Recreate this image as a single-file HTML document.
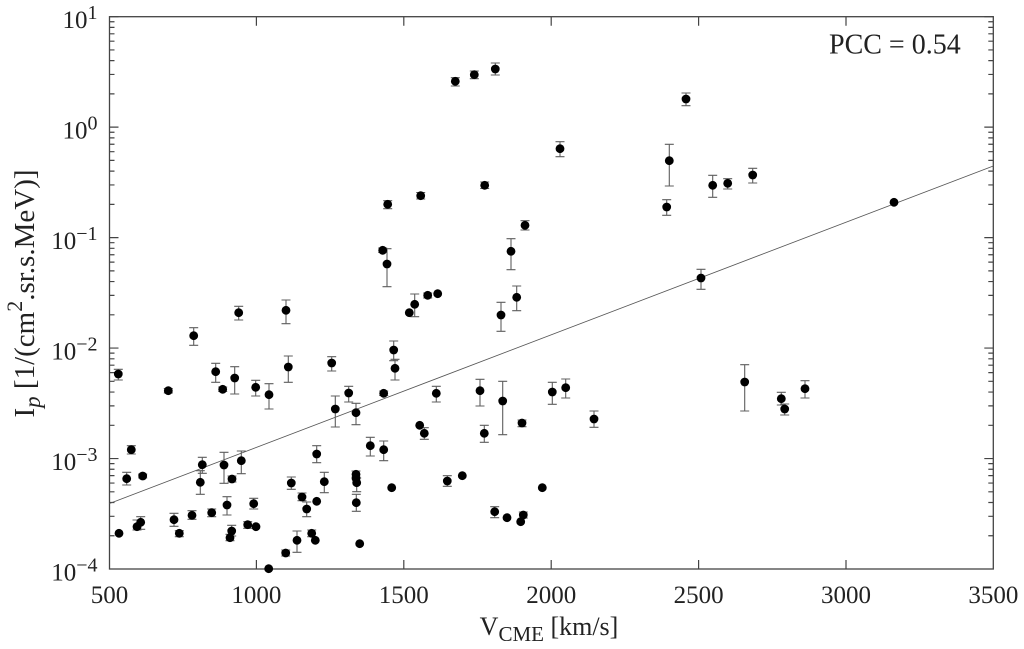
<!DOCTYPE html>
<html>
<head>
<meta charset="utf-8">
<style>
html,body{margin:0;padding:0;background:#fff;}
svg{display:block;}
svg text{font-family:"Liberation Serif","Times New Roman",serif;fill:#222;}
</style>
</head>
<body>
<svg width="1024" height="649" viewBox="0 0 1024 649" xmlns="http://www.w3.org/2000/svg" font-family="'Liberation Serif', 'Times New Roman', serif">
<rect x="0" y="0" width="1024" height="649" fill="#fff"/>
<g id="lt" stroke="#444" stroke-width="1.2" fill="none">
<path d="M109.5,458.54h9M109.5,348.08h9M109.5,237.62h9M109.5,127.16h9M109.5,16.7h9M109.5,535.75h5M109.5,516.3h5M109.5,502.5h5M109.5,491.79h5M109.5,483.05h5M109.5,475.65h5M109.5,469.25h5M109.5,463.6h5M109.5,425.29h5M109.5,405.84h5M109.5,392.04h5M109.5,381.33h5M109.5,372.59h5M109.5,365.19h5M109.5,358.79h5M109.5,353.14h5M109.5,314.83h5M109.5,295.38h5M109.5,281.58h5M109.5,270.87h5M109.5,262.13h5M109.5,254.73h5M109.5,248.33h5M109.5,242.68h5M109.5,204.37h5M109.5,184.92h5M109.5,171.12h5M109.5,160.41h5M109.5,151.67h5M109.5,144.27h5M109.5,137.87h5M109.5,132.22h5M109.5,93.91h5M109.5,74.46h5M109.5,60.66h5M109.5,49.95h5M109.5,41.21h5M109.5,33.81h5M109.5,27.41h5M109.5,21.76h5"/>
</g>
<use href="#lt" transform="translate(1102.8,0) scale(-1,1)"/>
<path d="M256.4,569v-9M403.8,569v-9M551.2,569v-9M698.6,569v-9M846,569v-9M256.4,16.7v9M403.8,16.7v9M551.2,16.7v9M698.6,16.7v9M846,16.7v9" stroke="#444" stroke-width="1.2" fill="none"/>
<rect x="109.5" y="16.7" width="883.8" height="552.3" fill="none" stroke="#444" stroke-width="1.3"/>
<line x1="109.5" y1="503.5" x2="993.3" y2="166" stroke="#555" stroke-width="0.9"/>
<path fill="none" stroke="#5f5f5f" stroke-width="1.1" d="M118.3,369.3V380M113.8,369.3h9M113.8,380h9M168.3,388.5V393M163.8,388.5h9M163.8,393h9M193.7,327.7V345.3M189.2,327.7h9M189.2,345.3h9M238.7,306.3V320M234.2,306.3h9M234.2,320h9M286,300V323.7M281.5,300h9M281.5,323.7h9M215.7,363.3V382.3M211.2,363.3h9M211.2,382.3h9M222.7,387V391.5M218.2,387h9M218.2,391.5h9M234.7,366.7V394M230.2,366.7h9M230.2,394h9M255.7,380.3V396M251.2,380.3h9M251.2,396h9M269,383.7V409M264.5,383.7h9M264.5,409h9M288.3,356V382.3M283.8,356h9M283.8,382.3h9M331.7,356.7V371M327.2,356.7h9M327.2,371h9M335.3,396V427M330.8,396h9M330.8,427h9M348.7,386.3V402M344.2,386.3h9M344.2,402h9M356,403.3V424.7M351.5,403.3h9M351.5,424.7h9M383.7,391V395.5M379.2,391h9M379.2,395.5h9M393.7,341V360.7M389.2,341h9M389.2,360.7h9M395,359.3V380M390.5,359.3h9M390.5,380h9M131.3,445.7V454M126.8,445.7h9M126.8,454h9M126.7,472.3V485M122.2,472.3h9M122.2,485h9M142.7,474V478M138.2,474h9M138.2,478h9M202.3,457.3V473.3M197.8,457.3h9M197.8,473.3h9M200.3,470.7V494.3M195.8,470.7h9M195.8,494.3h9M224,452.3V483.3M219.5,452.3h9M219.5,483.3h9M241.3,451V473.7M236.8,451h9M236.8,473.7h9M232,476V482M227.5,476h9M227.5,482h9M137,520V530M132.5,520h9M132.5,530h9M140.7,516.7V529.3M136.2,516.7h9M136.2,529.3h9M174,513.3V526.3M169.5,513.3h9M169.5,526.3h9M179.3,530.7V536.7M174.8,530.7h9M174.8,536.7h9M192,510.7V519.3M187.5,510.7h9M187.5,519.3h9M211.7,509V516.7M207.2,509h9M207.2,516.7h9M227,496.7V515M222.5,496.7h9M222.5,515h9M253.7,498.3V509M249.2,498.3h9M249.2,509h9M247.7,521.7V528.3M243.2,521.7h9M243.2,528.3h9M231.7,525.3V536M227.2,525.3h9M227.2,536h9M230,534.3V540.7M225.5,534.3h9M225.5,540.7h9M285.7,550V556M281.2,550h9M281.2,556h9M297,531V552.3M292.5,531h9M292.5,552.3h9M291.3,477V489.3M286.8,477h9M286.8,489.3h9M302,493V500.7M297.5,493h9M297.5,500.7h9M306.7,502V516.7M302.2,502h9M302.2,516.7h9M316.7,445.7V462.7M312.2,445.7h9M312.2,462.7h9M324.3,472.3V492.7M319.8,472.3h9M319.8,492.7h9M311.7,530V536.7M307.2,530h9M307.2,536.7h9M356,471V477M351.5,471h9M351.5,477h9M356.7,478V491.7M352.2,478h9M352.2,491.7h9M356.3,494.3V511.3M351.8,494.3h9M351.8,511.3h9M370.3,437.3V456M365.8,437.3h9M365.8,456h9M383.7,441V460.7M379.2,441h9M379.2,460.7h9M414.7,294V316.7M410.2,294h9M410.2,316.7h9M427.7,293V298M423.2,293h9M423.2,298h9M501,302.3V331.3M496.5,302.3h9M496.5,331.3h9M516.7,286V310.7M512.2,286h9M512.2,310.7h9M436.3,386.3V402M431.8,386.3h9M431.8,402h9M480,379.3V406M475.5,379.3h9M475.5,406h9M502.7,381.3V434.7M498.2,381.3h9M498.2,434.7h9M552.3,382.3V404.3M547.8,382.3h9M547.8,404.3h9M565.7,379V398M561.2,379h9M561.2,398h9M594,411V427.3M589.5,411h9M589.5,427.3h9M424.3,427.7V439.3M419.8,427.7h9M419.8,439.3h9M484.3,425.3V442.3M479.8,425.3h9M479.8,442.3h9M522,420V426.7M517.5,420h9M517.5,426.7h9M447.3,475.7V486.3M442.8,475.7h9M442.8,486.3h9M494.7,506.7V517.7M490.2,506.7h9M490.2,517.7h9M523.3,512V518M518.8,512h9M518.8,518h9M455.3,77.7V86M450.8,77.7h9M450.8,86h9M474.3,71V78.7M469.8,71h9M469.8,78.7h9M495.3,63V75M490.8,63h9M490.8,75h9M560,141.7V156.7M555.5,141.7h9M555.5,156.7h9M669.3,144.3V186M664.8,144.3h9M664.8,186h9M666.7,199.7V215.3M662.2,199.7h9M662.2,215.3h9M387.7,200.7V208.7M383.2,200.7h9M383.2,208.7h9M420.7,192.5V199M416.2,192.5h9M416.2,199h9M484.7,182V188.5M480.2,182h9M480.2,188.5h9M525,220.7V230M520.5,220.7h9M520.5,230h9M511,238.7V269.7M506.5,238.7h9M506.5,269.7h9M382.7,248V252.5M378.2,248h9M378.2,252.5h9M387,248.7V286.7M382.5,248.7h9M382.5,286.7h9M686,93V105.7M681.5,93h9M681.5,105.7h9M712.7,175.3V197.3M708.2,175.3h9M708.2,197.3h9M727.7,178.7V189M723.2,178.7h9M723.2,189h9M752.7,168.3V183M748.2,168.3h9M748.2,183h9M701,269.3V289.3M696.5,269.3h9M696.5,289.3h9M744.7,364.7V411M740.2,364.7h9M740.2,411h9M781.3,392.3V405M776.8,392.3h9M776.8,405h9M784.7,404V415M780.2,404h9M780.2,415h9M805,380.7V398M800.5,380.7h9M800.5,398h9"/>
<g fill="#000">
<circle cx="118.3" cy="374" r="4.4"/><circle cx="168.3" cy="390.7" r="4.4"/><circle cx="193.7" cy="335.7" r="4.4"/><circle cx="238.7" cy="312.7" r="4.4"/><circle cx="286" cy="310.3" r="4.4"/><circle cx="215.7" cy="371.7" r="4.4"/><circle cx="222.7" cy="389.3" r="4.4"/><circle cx="234.7" cy="378" r="4.4"/><circle cx="255.7" cy="387.3" r="4.4"/><circle cx="269" cy="394.7" r="4.4"/><circle cx="288.3" cy="367" r="4.4"/><circle cx="331.7" cy="363" r="4.4"/><circle cx="335.3" cy="409" r="4.4"/><circle cx="348.7" cy="393" r="4.4"/><circle cx="356" cy="412.7" r="4.4"/><circle cx="383.7" cy="393.3" r="4.4"/><circle cx="393.7" cy="350" r="4.4"/><circle cx="395" cy="368.3" r="4.4"/><circle cx="131.3" cy="449.7" r="4.4"/><circle cx="126.7" cy="478.7" r="4.4"/><circle cx="142.7" cy="476" r="4.4"/><circle cx="202.3" cy="464.7" r="4.4"/><circle cx="200.3" cy="482.3" r="4.4"/><circle cx="224" cy="465" r="4.4"/><circle cx="241.3" cy="460.7" r="4.4"/><circle cx="232" cy="479" r="4.4"/><circle cx="119" cy="533.3" r="4.4"/><circle cx="137" cy="526.7" r="4.4"/><circle cx="140.7" cy="522.3" r="4.4"/><circle cx="174" cy="519.7" r="4.4"/><circle cx="179.3" cy="533.3" r="4.4"/><circle cx="192" cy="515.3" r="4.4"/><circle cx="211.7" cy="512.7" r="4.4"/><circle cx="227" cy="505" r="4.4"/><circle cx="253.7" cy="503.7" r="4.4"/><circle cx="247.7" cy="524.7" r="4.4"/><circle cx="256" cy="526.7" r="4.4"/><circle cx="231.7" cy="531" r="4.4"/><circle cx="230" cy="537.7" r="4.4"/><circle cx="268.7" cy="568.7" r="4.4"/><circle cx="285.7" cy="553" r="4.4"/><circle cx="297" cy="540.3" r="4.4"/><circle cx="291.3" cy="483" r="4.4"/><circle cx="302" cy="497" r="4.4"/><circle cx="306.7" cy="509" r="4.4"/><circle cx="316.7" cy="501.3" r="4.4"/><circle cx="316.7" cy="454" r="4.4"/><circle cx="324.3" cy="481.7" r="4.4"/><circle cx="311.7" cy="533.3" r="4.4"/><circle cx="315.3" cy="540.3" r="4.4"/><circle cx="356" cy="474.3" r="4.4"/><circle cx="356" cy="478.3" r="4.4"/><circle cx="356.7" cy="482.7" r="4.4"/><circle cx="356.3" cy="502.7" r="4.4"/><circle cx="359.7" cy="543.7" r="4.4"/><circle cx="370.3" cy="445.7" r="4.4"/><circle cx="383.7" cy="449.7" r="4.4"/><circle cx="391.7" cy="487.7" r="4.4"/><circle cx="409.3" cy="312.7" r="4.4"/><circle cx="414.7" cy="304.3" r="4.4"/><circle cx="427.7" cy="295.3" r="4.4"/><circle cx="437.7" cy="293.7" r="4.4"/><circle cx="501" cy="315" r="4.4"/><circle cx="516.7" cy="297.3" r="4.4"/><circle cx="436.3" cy="393.3" r="4.4"/><circle cx="480" cy="390.7" r="4.4"/><circle cx="502.7" cy="401" r="4.4"/><circle cx="552.3" cy="392" r="4.4"/><circle cx="565.7" cy="387.7" r="4.4"/><circle cx="594" cy="419" r="4.4"/><circle cx="419.7" cy="425.3" r="4.4"/><circle cx="424.3" cy="433.3" r="4.4"/><circle cx="484.3" cy="433.3" r="4.4"/><circle cx="522" cy="423" r="4.4"/><circle cx="447.3" cy="481" r="4.4"/><circle cx="462.3" cy="475.7" r="4.4"/><circle cx="542.3" cy="487.7" r="4.4"/><circle cx="494.7" cy="511.7" r="4.4"/><circle cx="507" cy="517.7" r="4.4"/><circle cx="520.7" cy="521.7" r="4.4"/><circle cx="523.3" cy="515" r="4.4"/><circle cx="455.3" cy="81.3" r="4.4"/><circle cx="474.3" cy="74.7" r="4.4"/><circle cx="495.3" cy="69" r="4.4"/><circle cx="560" cy="148.7" r="4.4"/><circle cx="669.3" cy="160.7" r="4.4"/><circle cx="666.7" cy="207" r="4.4"/><circle cx="387.7" cy="204.3" r="4.4"/><circle cx="420.7" cy="195.7" r="4.4"/><circle cx="484.7" cy="185.3" r="4.4"/><circle cx="525" cy="225.3" r="4.4"/><circle cx="511" cy="251.3" r="4.4"/><circle cx="382.7" cy="250.3" r="4.4"/><circle cx="387" cy="264" r="4.4"/><circle cx="686" cy="99" r="4.4"/><circle cx="712.7" cy="185.3" r="4.4"/><circle cx="727.7" cy="183.3" r="4.4"/><circle cx="752.7" cy="175" r="4.4"/><circle cx="894" cy="202.3" r="4.4"/><circle cx="701" cy="278" r="4.4"/><circle cx="744.7" cy="382" r="4.4"/><circle cx="781.3" cy="398.7" r="4.4"/><circle cx="784.7" cy="409" r="4.4"/><circle cx="805" cy="388.7" r="4.4"/>
</g>
<g font-size="25" text-anchor="middle" font-family="'Liberation Serif', serif" fill="#222">
<text x="109.5" y="603">500</text>
<text x="256.4" y="603">1000</text>
<text x="403.8" y="603">1500</text>
<text x="551.2" y="603">2000</text>
<text x="698.6" y="603">2500</text>
<text x="846" y="603">3000</text>
<text x="993.4" y="603">3500</text>
</g>
<g font-size="25" text-anchor="end" font-family="'Liberation Serif', serif" fill="#222">
<text x="97.5" y="28.2">10<tspan font-size="20" dy="-9">1</tspan></text>
<text x="97.5" y="138.7">10<tspan font-size="20" dy="-9">0</tspan></text>
<text x="97.5" y="249.1">10<tspan font-size="20" dy="-9">−1</tspan></text>
<text x="97.5" y="359.6">10<tspan font-size="20" dy="-9">−2</tspan></text>
<text x="97.5" y="470">10<tspan font-size="20" dy="-9">−3</tspan></text>
<text x="97.5" y="580.5">10<tspan font-size="20" dy="-9">−4</tspan></text>
</g>
<text x="829" y="53.5" font-size="28" font-family="'Liberation Serif', serif" fill="#222">PCC = 0.54</text>
<text x="549" y="635" font-size="26" text-anchor="middle" font-family="'Liberation Serif', serif" fill="#222">V<tspan font-size="21" dy="6">CME</tspan><tspan dy="-6"> [km/s]</tspan></text>
<text transform="translate(34,293.5) rotate(-90)" font-size="29" text-anchor="middle" font-family="'Liberation Serif', serif" fill="#222">I<tspan font-size="23" font-style="italic" dy="6">p</tspan><tspan dy="-6"> [1/(cm</tspan><tspan font-size="22" dy="-12">2</tspan><tspan dy="12">.sr.s.MeV)]</tspan></text>
</svg>
</body>
</html>
